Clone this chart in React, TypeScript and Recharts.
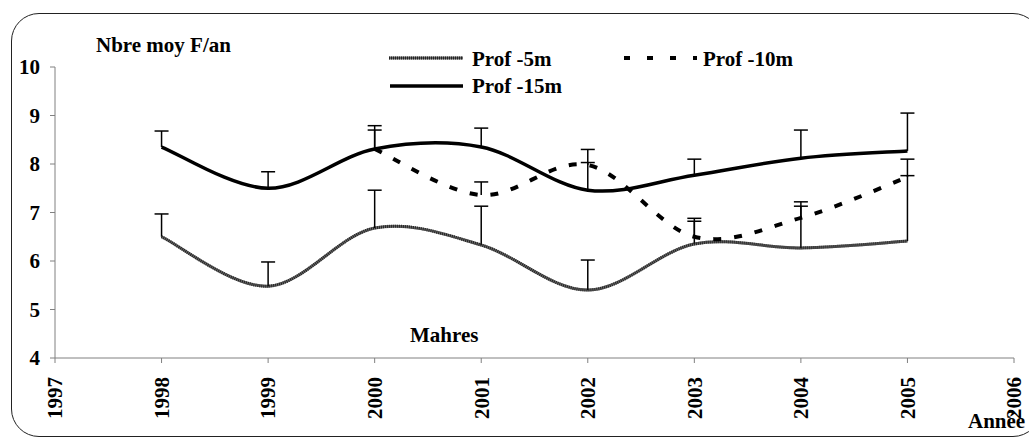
import React from 'react';
import { LineChart, Line, XAxis, YAxis, ErrorBar } from 'recharts';

const years = [1998, 1999, 2000, 2001, 2002, 2003, 2004, 2005];
const prof5 = [6.5, 5.48, 6.68, 6.33, 5.4, 6.35, 6.27, 6.41];
const prof5Err = [0.47, 0.5, 0.78, 0.8, 0.62, 0.47, 0.86, 1.69];
const prof10 = [null, null, 8.31, 7.36, 7.98, 6.5, 6.89, 7.73];
const prof10Err = [null, null, 0.39, 0.27, 0.05, 0.38, 0.33, 0.03];
const prof15 = [8.35, 7.5, 8.31, 8.35, 7.46, 7.77, 8.12, 8.27];
const prof15Err = [0.33, 0.34, 0.48, 0.39, 0.84, 0.33, 0.58, 0.78];
const xTicks = [1997, 1998, 1999, 2000, 2001, 2002, 2003, 2004, 2005, 2006];
const yTicks = [4, 5, 6, 7, 8, 9, 10];

const data = years.map((year, i) => ({
  year,
  p5: prof5[i],
  p5e: [0, prof5Err[i]],
  p10: prof10[i],
  p10e: prof10Err[i] == null ? null : [0, prof10Err[i]],
  p15: prof15[i],
  p15e: [0, prof15Err[i]],
}));

const FONT = '"Liberation Serif", "Times New Roman", serif';

// Excel-like smoothing (Catmull-Rom through the points)
function smoothCurve(context: any) {
  let pts: number[][] = [];
  return {
    areaStart() {},
    areaEnd() {},
    lineStart() {
      pts = [];
    },
    point(x: number, y: number) {
      pts.push([+x, +y]);
    },
    lineEnd() {
      const n = pts.length;
      if (!n) return;
      context.moveTo(pts[0][0], pts[0][1]);
      for (let i = 0; i < n - 1; i++) {
        const p0 = pts[i - 1] || pts[i];
        const p1 = pts[i];
        const p2 = pts[i + 1];
        const p3 = pts[i + 2] || p2;
        const t = 1 / 6;
        context.bezierCurveTo(
          p1[0] + (p2[0] - p0[0]) * t,
          p1[1] + (p2[1] - p0[1]) * t,
          p2[0] - (p3[0] - p1[0]) * t,
          p2[1] - (p3[1] - p1[1]) * t,
          p2[0],
          p2[1]
        );
      }
    },
  };
}

const XTick = (props: any) => {
  const { x, y, payload } = props;
  return (
    <text
      x={x}
      y={y}
      dy="0.35em"
      transform={`rotate(-90, ${x}, ${y})`}
      textAnchor="end"
      fontFamily={FONT}
      fontWeight="bold"
      fontSize={21}
      fill="#000"
    >
      {payload.value}
    </text>
  );
};

export default function App() {
  const txt = { fontFamily: FONT, fontWeight: 'bold' as const, fontSize: 21, fill: '#000' };
  return (
    <div
      style={{
        position: 'fixed',
        left: 0,
        top: 0,
        width: 1029,
        height: 437,
        overflow: 'hidden',
        background: '#fff',
      }}
    >
      {/* only the upper half of each error bar, no cap at the point */}
      <style>{'.recharts-errorBar line:nth-of-type(3){display:none}'}</style>
      <div
        style={{
          position: 'absolute',
          left: 11,
          top: 13,
          width: 1030,
          height: 424,
          boxSizing: 'border-box',
          border: '1.5px solid #222',
          borderRadius: 28,
        }}
      />
      <div style={{ position: 'absolute', left: 0, top: 0 }}>
        <LineChart width={1029} height={437} data={data} margin={{ top: 67, right: 15, bottom: 0, left: 0 }}>
          <XAxis
            dataKey="year"
            type="number"
            domain={[1997, 2006]}
            ticks={xTicks}
            interval={0}
            height={79}
            stroke="#808080"
            tickSize={5}
            tickMargin={14}
            tick={<XTick />}
          />
          <YAxis
            type="number"
            domain={[4, 10]}
            ticks={yTicks}
            interval={0}
            width={55}
            stroke="#808080"
            tickSize={5}
            tickMargin={10}
            allowDataOverflow
            tick={{ ...txt, fill: '#000' }}
          />
          <Line
            dataKey="p5"
            type={smoothCurve as any}
            stroke="#6a6a6a"
            strokeWidth={3}
            dot={false}
            isAnimationActive={false}
          />
          <Line
            dataKey="p5"
            type={smoothCurve as any}
            stroke="#222"
            strokeWidth={3}
            strokeDasharray="1 1"
            dot={false}
            isAnimationActive={false}
          >
            <ErrorBar dataKey="p5e" direction="y" width={7} stroke="#000" strokeWidth={1.5} isAnimationActive={false} />
          </Line>
          <Line
            dataKey="p10"
            type={smoothCurve as any}
            stroke="#000"
            strokeWidth={4}
            strokeDasharray="8 13"
            dot={false}
            isAnimationActive={false}
          >
            <ErrorBar dataKey="p10e" direction="y" width={7} stroke="#000" strokeWidth={1.5} isAnimationActive={false} />
          </Line>
          <Line
            dataKey="p15"
            type={smoothCurve as any}
            stroke="#000"
            strokeWidth={3.5}
            dot={false}
            isAnimationActive={false}
          >
            <ErrorBar dataKey="p15e" direction="y" width={7} stroke="#000" strokeWidth={1.5} isAnimationActive={false} />
          </Line>
        </LineChart>
      </div>
      <svg width={1029} height={437} style={{ position: 'absolute', left: 0, top: 0, pointerEvents: 'none' }}>
        <text x={96} y={52} {...txt}>Nbre moy F/an</text>
        <text x={410} y={342} {...txt}>Mahres</text>
        <text x={968} y={428} {...txt}>Année</text>
        <line x1={389} y1={58} x2={463} y2={58} stroke="#6a6a6a" strokeWidth={3} />
        <line x1={389} y1={58} x2={463} y2={58} stroke="#222" strokeWidth={3} strokeDasharray="1 1" />
        <text x={472} y={66} {...txt}>Prof -5m</text>
        <line x1={624} y1={58} x2={697} y2={58} stroke="#000" strokeWidth={4} strokeDasharray="6 17" />
        <text x={703} y={66} {...txt}>Prof -10m</text>
        <line x1={390} y1={86} x2={463} y2={86} stroke="#000" strokeWidth={3.5} />
        <text x={472} y={93} {...txt}>Prof -15m</text>
      </svg>
    </div>
  );
}
